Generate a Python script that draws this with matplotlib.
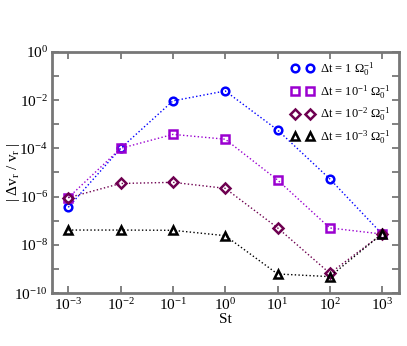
import matplotlib
matplotlib.use("Agg")
import matplotlib.pyplot as plt
from matplotlib.ticker import FixedLocator, NullFormatter

plt.rcParams['font.family'] = ['Liberation Serif', 'DejaVu Serif']
plt.rcParams['mathtext.fontset'] = 'custom'
plt.rcParams['mathtext.rm'] = 'Liberation Serif'
plt.rcParams['mathtext.it'] = 'Liberation Serif:italic'

St = [1e-3, 1e-2, 1e-1, 1e0, 1e1, 1e2, 1e3]
dt1 = [3.6e-7, 1.0e-4, 9.3e-3, 2.4e-2, 5.8e-4, 5.4e-6, 2.8e-8]
dt01 = [9.0e-7, 1.0e-4, 3.8e-4, 2.4e-4, 4.9e-6, 5.0e-8, 2.8e-8]
dt001 = [9.0e-7, 3.5e-6, 3.9e-6, 2.2e-6, 5.1e-8, 6.6e-10, 2.8e-8]
dt0001 = [4.1e-8, 4.1e-8, 4.0e-8, 2.4e-8, 6.2e-10, 4.8e-10, 2.9e-8]

labels = [r'$\Delta$t = 1 $\Omega_0^{-1}$',
          r'$\Delta$t = 10$^{-1}$ $\Omega_0^{-1}$',
          r'$\Delta$t = 10$^{-2}$ $\Omega_0^{-1}$',
          r'$\Delta$t = 10$^{-3}$ $\Omega_0^{-1}$']
series = [dt1, dt01, dt001, dt0001]
colors = ['#0000ff', '#9a00d0', '#6e0050', '#000000']
markers = ['o', 's', 'D', '^']
msizes = [5.5, 5.5, 5.5, 6]

fig = plt.figure(figsize=(4.07, 3.46), dpi=100)
ax = fig.add_axes([0.128, 0.153, 0.852, 0.697])

for y, c, m, ms, lab in zip(series, colors, markers, msizes, labels):
    ax.plot(St, y, linestyle=':', color=c, linewidth=1.0, marker=m,
            markersize=ms, markerfacecolor='none', markeredgecolor=c,
            markeredgewidth=1.8, label=lab)

ax.set_xscale('log')
ax.set_yscale('log')
ax.set_xlim(10**-3.31, 10**3.32)
ax.set_ylim(1e-10, 1e0)

ax.xaxis.set_major_locator(FixedLocator([1e-3, 1e-2, 1e-1, 1e0, 1e1, 1e2, 1e3]))
ax.xaxis.set_minor_locator(FixedLocator([]))
ax.yaxis.set_major_locator(FixedLocator([1e-10, 1e-8, 1e-6, 1e-4, 1e-2, 1e0]))
ax.yaxis.set_minor_locator(FixedLocator([1e-9, 1e-7, 1e-5, 1e-3, 1e-1]))
ax.yaxis.set_minor_formatter(NullFormatter())

ax.tick_params(which='both', direction='in', top=True, right=True,
               color='#777777', labelsize=11, pad=3)
ax.tick_params(which='major', length=5, width=1.3)
ax.tick_params(which='minor', length=5, width=1.3)
for s in ax.spines.values():
    s.set_color('#777777')
    s.set_linewidth(2)

ax.set_xlabel('St', fontsize=11, labelpad=0)
ax.set_ylabel(r'| $\Delta$v$_{\rm r}$ / v$_{\rm r}$ |', fontsize=11)
ax.yaxis.set_label_coords(-0.088, 0.5)

leg = ax.legend(loc='upper right', frameon=False, numpoints=2, fontsize=9,
                handlelength=1.85, handletextpad=0.45, labelspacing=0.4,
                borderaxespad=0.3, bbox_to_anchor=(1.0, 1.0))
for h in leg.legend_handles:
    h.set_linestyle('none')

fig.savefig('out.png', dpi=100)
